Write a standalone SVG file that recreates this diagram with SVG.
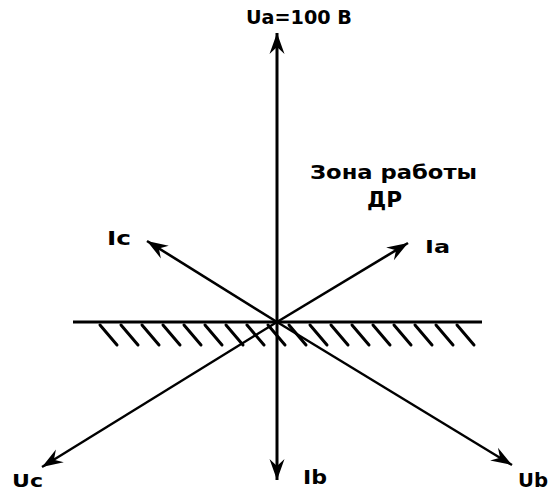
<svg xmlns="http://www.w3.org/2000/svg" width="548" height="495" viewBox="0 0 548 495">
<style>
.ln{stroke:#000;fill:none;stroke-linecap:butt}
.lbl{font-family:"DejaVu Sans","Liberation Sans",sans-serif;font-weight:bold;fill:#000}
.hatch{stroke:#000;stroke-width:3;stroke-linecap:round}
</style>
<defs>
<marker id="ah" markerUnits="userSpaceOnUse" viewBox="-22 -9 23 18" refX="0" refY="0" markerWidth="23" markerHeight="18" orient="auto">
<path d="M0,0 L-21,-7.5 L-14,0 L-21,7.5 Z" fill="#000"/>
</marker>
</defs>
<rect width="548" height="495" fill="#fff"/>
<g id="axis">
<line class="ln" x1="73" y1="322" x2="482" y2="322" stroke-width="3"/>
<g id="hatching">
<line class="hatch" x1="100" y1="325" x2="117" y2="345"/>
<line class="hatch" x1="121" y1="325" x2="138" y2="345"/>
<line class="hatch" x1="142" y1="325" x2="159" y2="345"/>
<line class="hatch" x1="163" y1="325" x2="180" y2="345"/>
<line class="hatch" x1="184" y1="325" x2="201" y2="345"/>
<line class="hatch" x1="205" y1="325" x2="222" y2="345"/>
<line class="hatch" x1="226" y1="325" x2="243" y2="345"/>
<line class="hatch" x1="247" y1="325" x2="264" y2="345"/>
<line class="hatch" x1="268" y1="325" x2="285" y2="345"/>
<line class="hatch" x1="289" y1="325" x2="306" y2="345"/>
<line class="hatch" x1="310" y1="325" x2="327" y2="345"/>
<line class="hatch" x1="331" y1="325" x2="348" y2="345"/>
<line class="hatch" x1="352" y1="325" x2="369" y2="345"/>
<line class="hatch" x1="373" y1="325" x2="390" y2="345"/>
<line class="hatch" x1="394" y1="325" x2="411" y2="345"/>
<line class="hatch" x1="415" y1="325" x2="432" y2="345"/>
<line class="hatch" x1="436" y1="325" x2="453" y2="345"/>
<line class="hatch" x1="457" y1="325" x2="474" y2="345"/>
</g>
</g>
<g id="connectors">
<line class="ln" x1="277" y1="322" x2="277" y2="33" stroke-width="3" marker-end="url(#ah)"/>
<line class="ln" x1="277" y1="322" x2="277" y2="480" stroke-width="3" marker-end="url(#ah)"/>
<line class="ln" x1="277" y1="322" x2="408" y2="243" stroke-width="2.6" marker-end="url(#ah)"/>
<line class="ln" x1="277" y1="322" x2="147" y2="241" stroke-width="2.6" marker-end="url(#ah)"/>
<line class="ln" x1="277" y1="322" x2="512" y2="465" stroke-width="2.4" marker-end="url(#ah)"/>
<line class="ln" x1="277" y1="322" x2="42" y2="467" stroke-width="2.4" marker-end="url(#ah)"/>
</g>
<g id="Ua"><text class="lbl" x="246" y="24" font-size="19" textLength="106" lengthAdjust="spacingAndGlyphs">Ua=100 В</text></g>
<g id="zone"><text class="lbl" x="310" y="179" font-size="20" textLength="167" lengthAdjust="spacingAndGlyphs">Зона работы</text>
<text class="lbl" x="367" y="207" font-size="21" textLength="35" lengthAdjust="spacingAndGlyphs">ДР</text></g>
<g id="Ic"><text class="lbl" x="107" y="245" font-size="19" font-family="Liberation Serif" textLength="24" lengthAdjust="spacingAndGlyphs">Ic</text></g>
<g id="Ia"><text class="lbl" x="425" y="253" font-size="17" textLength="25" lengthAdjust="spacingAndGlyphs">Ia</text></g>
<g id="Uc"><text class="lbl" x="12" y="487" font-size="18" textLength="31" lengthAdjust="spacingAndGlyphs">Uc</text></g>
<g id="Ib"><text class="lbl" x="303" y="484" font-size="20" textLength="24" lengthAdjust="spacingAndGlyphs">Ib</text></g>
<g id="Ub"><text class="lbl" x="518" y="487" font-size="19" textLength="30" lengthAdjust="spacingAndGlyphs">Ub</text></g>
</svg>
